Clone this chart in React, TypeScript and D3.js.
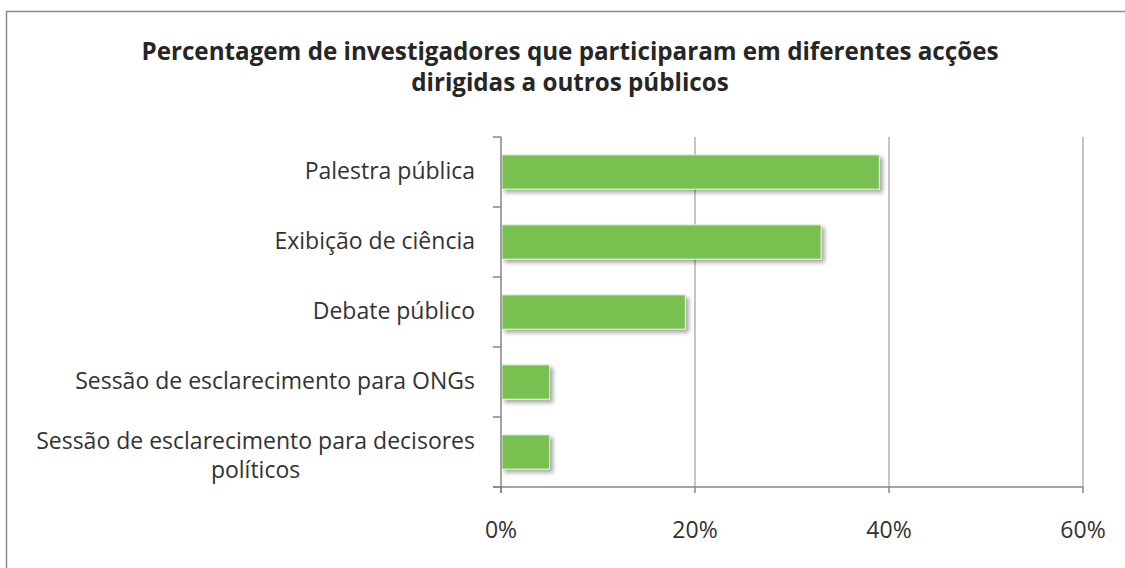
import React, { useEffect, useRef } from 'react';
import * as d3 from 'd3';

const categories = [
  ['Palestra pública'],
  ['Exibição de ciência'],
  ['Debate público'],
  ['Sessão de esclarecimento para ONGs'],
  ['Sessão de esclarecimento para decisores', 'políticos'],
];
const values = [0.39, 0.33, 0.19, 0.05, 0.05];
const xTicks = [0, 0.2, 0.4, 0.6];
const titleLines = [
  'Percentagem de investigadores que participaram em diferentes acções',
  'dirigidas a outros públicos',
];

const App = () => {
  const svgRef = useRef<SVGSVGElement>(null);

  useEffect(() => {
    document.body.style.margin = '0';
    const W = 1125, H = 568;
    const margin = { top: 137, right: 42, bottom: 81, left: 501 };
    const font = '"Open Sans", sans-serif';
    const labelSize = 23;

    const svg = d3.select(svgRef.current)
      .attr('width', W)
      .attr('height', H)
      .style('background', '#fff');
    svg.selectAll('*').remove();

    const defs = svg.append('defs');
    const f = defs.append('filter').attr('id', 'shadow')
      .attr('x', '-10%').attr('y', '-30%').attr('width', '130%').attr('height', '180%');
    f.append('feDropShadow')
      .attr('dx', 3).attr('dy', 3).attr('stdDeviation', 2)
      .attr('flood-color', '#000').attr('flood-opacity', 0.35);

    // outer frame
    svg.append('rect')
      .attr('x', 6.5).attr('y', 11.5)
      .attr('width', W + 20).attr('height', H + 20)
      .attr('fill', 'none').attr('stroke', '#8c8c8c').attr('stroke-width', 1.5);

    svg.append('g').selectAll('text')
      .data(titleLines).enter().append('text')
      .attr('x', 570).attr('y', (d, i) => 60 + i * 31)
      .attr('text-anchor', 'middle')
      .attr('font-family', font).attr('font-weight', 'bold')
      .attr('font-size', 24.2).attr('fill', '#262626')
      .text(d => d);

    const x = d3.scaleLinear().domain([0, 0.6]).range([margin.left, W - margin.right]);
    const y = d3.scaleBand<number>()
      .domain(d3.range(categories.length))
      .range([margin.top, H - margin.bottom])
      .paddingInner(0.51).paddingOuter(0.255);

    const grid = svg.append('g');
    grid.selectAll('line')
      .data(xTicks.slice(1)).enter().append('line')
      .attr('x1', d => x(d)).attr('x2', d => x(d))
      .attr('y1', margin.top).attr('y2', H - margin.bottom)
      .attr('stroke', '#8c8c8c').attr('stroke-width', 1);

    svg.append('g').selectAll('rect')
      .data(values).enter().append('rect')
      .attr('x', x(0) + 1)
      .attr('y', (d, i) => y(i)!)
      .attr('width', d => x(d) - x(0) - 1)
      .attr('height', y.bandwidth())
      .attr('fill', '#78c050')
      .attr('stroke', '#e4f2dc').attr('stroke-width', 1)
      .attr('filter', 'url(#shadow)');

    // y axis with ticks at band boundaries
    const step = y.step();
    const yAxis = svg.append('g');
    yAxis.append('line')
      .attr('x1', x(0)).attr('x2', x(0))
      .attr('y1', margin.top).attr('y2', H - margin.bottom + 6)
      .attr('stroke', '#868686').attr('stroke-width', 1.5);
    yAxis.selectAll('.yt')
      .data(d3.range(categories.length + 1)).enter().append('line')
      .attr('x1', x(0) - 8).attr('x2', x(0))
      .attr('y1', i => margin.top + (H - margin.top - margin.bottom) - i * step)
      .attr('y2', i => margin.top + (H - margin.top - margin.bottom) - i * step)
      .attr('stroke', '#868686').attr('stroke-width', 1.5);

    // x axis
    const xAxis = svg.append('g');
    xAxis.append('line')
      .attr('x1', x(0) - 8).attr('x2', x(0.6))
      .attr('y1', H - margin.bottom).attr('y2', H - margin.bottom)
      .attr('stroke', '#868686').attr('stroke-width', 1.5);
    xAxis.selectAll('.xt')
      .data(xTicks).enter().append('line')
      .attr('x1', d => x(d)).attr('x2', d => x(d))
      .attr('y1', H - margin.bottom).attr('y2', H - margin.bottom + 6)
      .attr('stroke', '#868686').attr('stroke-width', 1.5);
    xAxis.selectAll('text')
      .data(xTicks).enter().append('text')
      .attr('x', d => x(d)).attr('y', 538)
      .attr('text-anchor', 'middle')
      .attr('font-family', font).attr('font-size', 23).attr('fill', '#333')
      .text(d => d3.format('.0%')(d));

    // category labels
    const labels = svg.append('g');
    categories.forEach((lines, i) => {
      const cy = y(i)! + y.bandwidth() / 2;
      if (lines.length === 1) {
        labels.append('text')
          .attr('x', 475).attr('y', cy + 7)
          .attr('text-anchor', 'end')
          .attr('font-family', font).attr('font-size', labelSize).attr('fill', '#333')
          .text(lines[0]);
      } else {
        const t = labels.append('text')
          .attr('font-family', font).attr('font-size', labelSize).attr('fill', '#333')
          .attr('text-anchor', 'middle');
        const tmp = t.append('tspan').text(lines[0]);
        const w = (tmp.node() as SVGTextContentElement).getComputedTextLength();
        tmp.remove();
        const cx = 475 - w / 2;
        lines.forEach((ln, j) => {
          t.append('tspan')
            .attr('x', cx)
            .attr('y', cy - 3 + j * 29)
            .text(ln);
        });
      }
    });
  }, []);

  return <svg ref={svgRef}></svg>;
};

export default App;
